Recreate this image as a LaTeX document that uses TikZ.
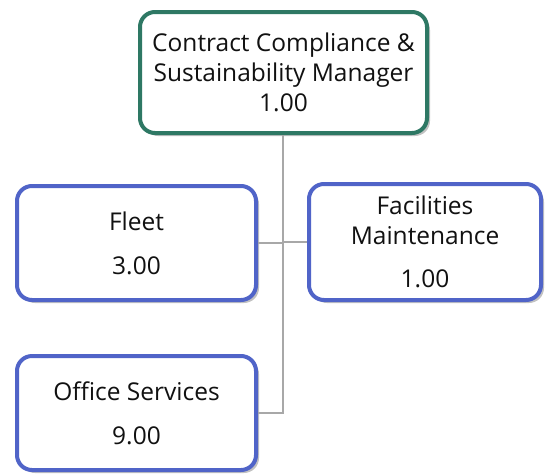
\documentclass[tikz,border=0pt]{standalone}
\usepackage{fontspec}
\setmainfont{Open Sans}
\usetikzlibrary{shadows}
\definecolor{mgrgreen}{HTML}{2E7864}
\definecolor{unitblue}{HTML}{5064C8}
\definecolor{linkgray}{HTML}{A8A8A8}
\definecolor{txt}{HTML}{111111}
\tikzset{
  orgbox/.style={draw, line width=4pt, rounded corners=15pt, fill=white,
    align=center, inner sep=0pt, text=txt,
    font=\fontsize{24.5}{30}\selectfont,
    drop shadow={shadow xshift=3pt, shadow yshift=-3pt, opacity=0.4, fill=black!60}},
  mgrbox/.style={orgbox, draw=mgrgreen},
  unitbox/.style={orgbox, draw=unitblue},
  link/.style={draw=linkgray, line width=2pt}
}
\begin{document}
\begin{tikzpicture}[x=1pt,y=-1pt]
\useasboundingbox (0,0) rectangle (545,474);
\node[mgrbox, minimum width=287pt, minimum height=121pt] (mgr) at (283.5,72.5)
  {Contract Compliance \&\\Sustainability Manager\\1.00};
\node[unitbox, minimum width=239pt, minimum height=114pt] (fleet) at (136.5,243)
  {Fleet\\[14pt]3.00};
\node[unitbox, minimum width=232pt, minimum height=116pt] (facil) at (425,242)
  {Facilities\\Maintenance\\[13pt]1.00};
\node[unitbox, minimum width=239pt, minimum height=114pt] (office) at (136.5,413)
  {Office Services\\[14pt]9.00};
\draw[link] (mgr.south -| 283,0) -- (283,0 |- office.east) -- (office.east);
\draw[link] (fleet.east) -- (fleet.east -| 283,0);
\draw[link] (facil.west) -- (facil.west -| 283,0);
\end{tikzpicture}
\end{document}
